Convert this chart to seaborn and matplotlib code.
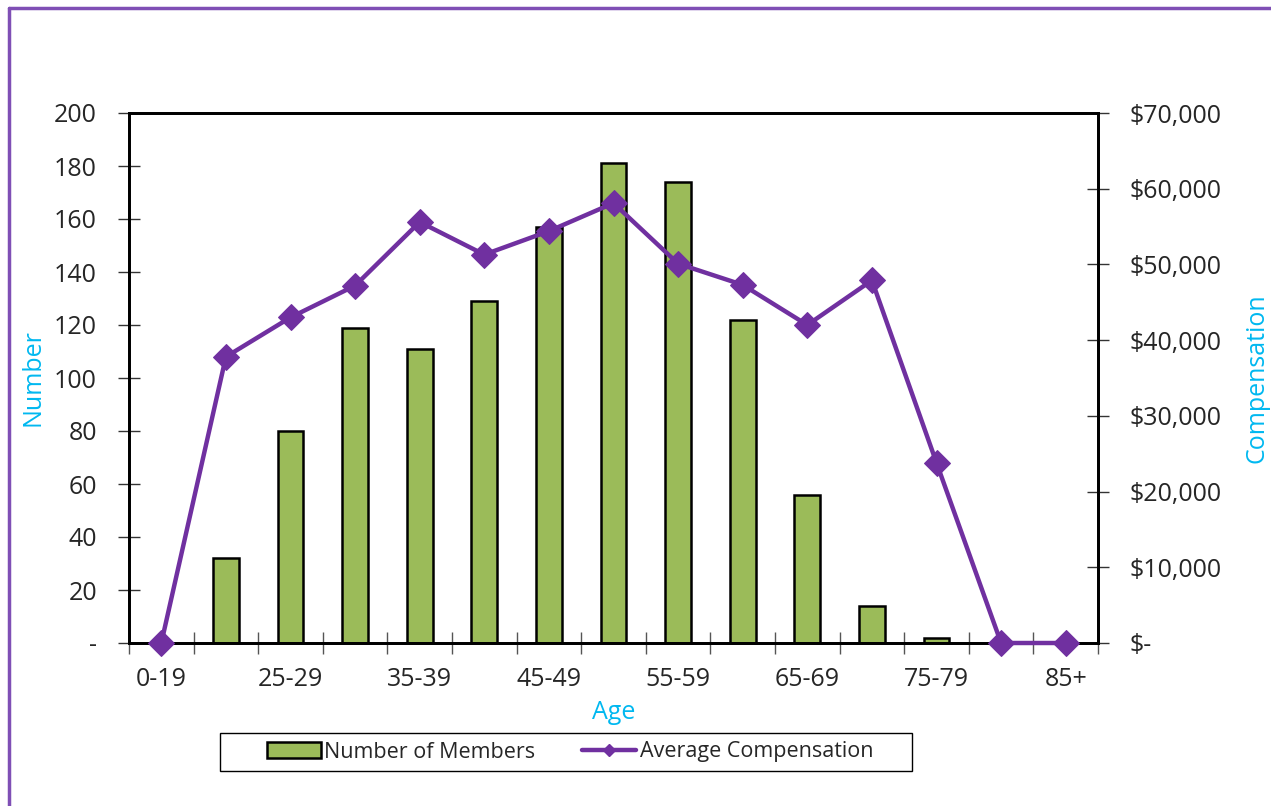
import numpy as np
import pandas as pd
import matplotlib
matplotlib.use("Agg")
import matplotlib.pyplot as plt
import seaborn as sns
from matplotlib.lines import Line2D
from matplotlib.patches import Patch, Rectangle
from matplotlib.ticker import FixedLocator, FuncFormatter

categories = ["0-19", "20-24", "25-29", "30-34", "35-39", "40-44", "45-49", "50-54",
              "55-59", "60-64", "65-69", "70-74", "75-79", "80-84", "85+"]
members = [0, 32, 80, 119, 111, 129, 157, 181, 174, 122, 56, 14, 2, 0, 0]
avg_comp = [0, 37800, 43000, 47200, 55600, 51300, 54400, 58100, 50100, 47300, 42000,
            47900, 23800, 0, 0]

sns.set_theme(style="white")
plt.rcParams['font.family'] = ['Open Sans', 'DejaVu Sans']

BAR = "#9BBB59"
LINE = "#7030A0"
CYAN = "#00B8F0"
FS = 18

fig = plt.figure(figsize=(12.71, 8.06), dpi=100)
ax = fig.add_axes([129/1271, 1-643/806, (1098-129)/1271, (643-113)/806])

df = pd.DataFrame({"Age": categories, "Members": members, "pos": np.arange(len(categories)),
                   "Comp": avg_comp})
sns.barplot(data=df, x="Age", y="Members", order=categories, color=BAR, width=0.4,
            edgecolor="black", linewidth=1.8, saturation=1, ax=ax)
ax.set_xlim(-0.5, len(categories) - 0.5)
ax.set_ylim(0, 200)

ax2 = ax.twinx()
sns.lineplot(data=df, x="pos", y="Comp", color=LINE, linewidth=3.2, marker="D",
             markersize=13, markeredgecolor=LINE, ax=ax2)
for ln in ax2.get_lines():
    ln.set_clip_on(False)
    ln.set_zorder(5)
ax2.set_ylim(0, 70000)
ax2.set_xlim(-0.5, len(categories) - 0.5)

# x ticks: marks at category boundaries, labels at every other category
ax.xaxis.set_major_locator(FixedLocator(np.arange(-0.5, len(categories), 1.0)))
ax.xaxis.set_major_formatter(FuncFormatter(lambda v, p: ""))
ax.set_xticks(np.arange(0, len(categories), 2),
              [categories[i] for i in range(0, len(categories), 2)], minor=True)
ax.tick_params(axis="x", which="major", direction="inout", length=16, width=1, color="#555555", bottom=True)
ax.tick_params(axis="x", which="minor", length=0, pad=17, labelsize=FS, bottom=True)

ax.set_yticks(np.arange(0, 201, 20))
ax.set_yticklabels(["-"] + [str(v) for v in range(20, 201, 20)])
ax.tick_params(axis="y", direction="inout", length=16, width=1, color="#333333", left=True,
               labelsize=FS, pad=15)

ax2.set_yticks(np.arange(0, 70001, 10000))
ax2.set_yticklabels(["$-"] + [f"${v:,}" for v in range(10000, 70001, 10000)])
ax2.tick_params(axis="y", direction="inout", length=16, width=1, color="#333333", right=True,
                labelsize=FS, pad=15)

for a in (ax, ax2):
    for s in a.spines.values():
        s.set_color("black")
        s.set_linewidth(2)
        s.set_visible(True)

ax.set_xlabel("Age", color=CYAN, fontsize=FS, labelpad=6)
ax.set_ylabel("Number", color=CYAN, fontsize=FS, labelpad=6)
ax2.set_ylabel("Compensation", color=CYAN, fontsize=FS, labelpad=16)

handles = [Patch(facecolor=BAR, edgecolor="black", linewidth=1.8, label="Number of Members"),
           Line2D([0], [0], color=LINE, linewidth=3.2, marker="D", markersize=6,
                  label="Average Compensation")]
leg = fig.legend(handles=handles, loc="center", bbox_to_anchor=(570/1271, 1-752/806), ncol=2,
                 frameon=False, fontsize=15.5, handlelength=2.5, handletextpad=0.15,
                 columnspacing=2.2, borderpad=0.4, borderaxespad=0)

# legend frame box
fig.add_artist(Rectangle((220/1271, 1-771/806), (912-220)/1271, (771-733)/806,
                         transform=fig.transFigure, facecolor="none", edgecolor="black",
                         linewidth=1))

# purple outer frame (left and top)
fig.add_artist(Line2D([9/1271, 9/1271], [0, 1-8/806], transform=fig.transFigure, color="#7F4FB5", linewidth=2.5))
fig.add_artist(Line2D([9/1271, 1], [1-8/806, 1-8/806], transform=fig.transFigure, color="#7F4FB5", linewidth=2.5))

fig.savefig("out.png", dpi=100)
